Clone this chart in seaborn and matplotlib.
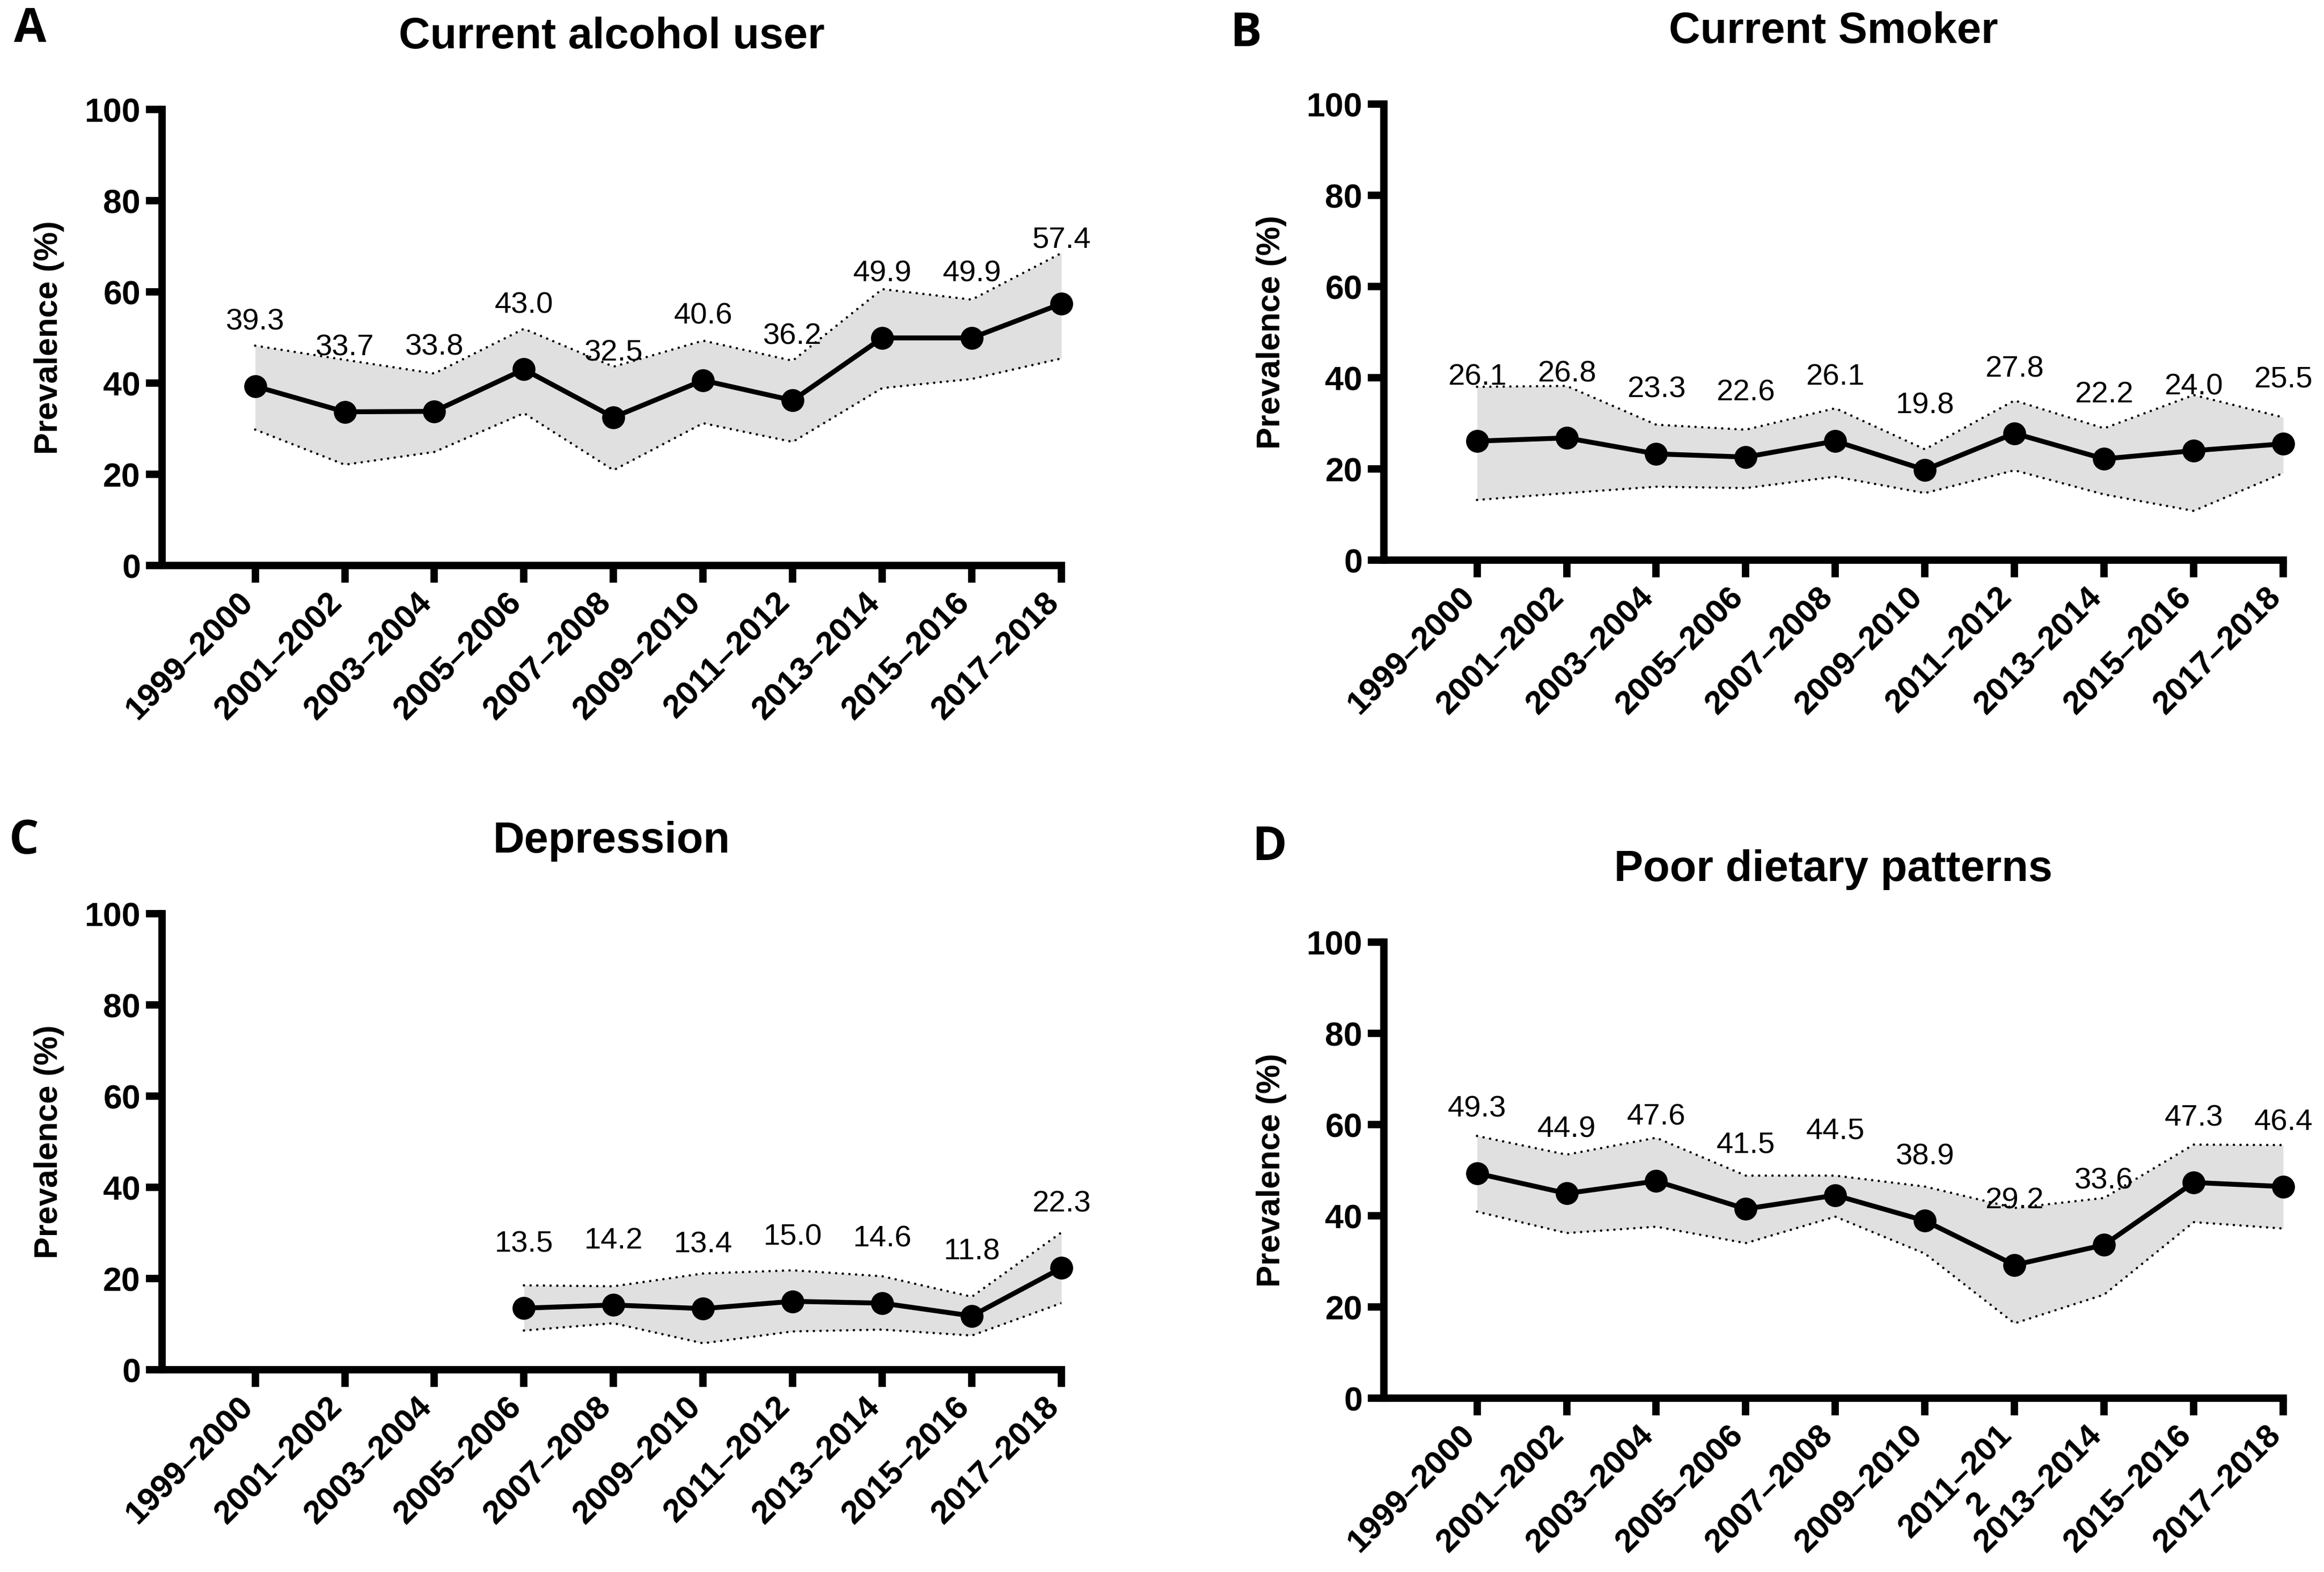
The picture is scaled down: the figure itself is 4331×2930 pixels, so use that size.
import numpy as np
import pandas as pd
import matplotlib
matplotlib.use("Agg")
import matplotlib.pyplot as plt
import matplotlib.transforms as mtransforms
import seaborn as sns

# survey cycles
cycles = ["1999–2000", "2001–2002", "2003–2004", "2005–2006", "2007–2008",
          "2009–2010", "2011–2012", "2013–2014", "2015–2016", "2017–2018"]
cycles_d = cycles[:6] + ["2011–201\n2"] + cycles[7:]

# A: current alcohol user
alcohol = [39.3, 33.7, 33.8, 43.0, 32.5, 40.6, 36.2, 49.9, 49.9, 57.4]
alcohol_lo = [29.8, 22.1, 24.9, 33.4, 20.9, 31.2, 27.1, 38.9, 40.9, 45.4]
alcohol_hi = [48.2, 45.1, 42.1, 51.9, 43.6, 49.3, 44.9, 60.6, 58.3, 68.5]

# B: current smoker
smoker = [26.1, 26.8, 23.3, 22.6, 26.1, 19.8, 27.8, 22.2, 24.0, 25.5]
smoker_lo = [13.2, 14.7, 16.1, 15.8, 18.3, 14.7, 19.7, 14.4, 10.8, 19.1]
smoker_hi = [38.0, 38.2, 29.7, 28.6, 33.3, 24.3, 35.0, 28.9, 36.2, 31.3]

# C: depression (no data before 2005-2006)
depress = [np.nan, np.nan, np.nan, 13.5, 14.2, 13.4, 15.0, 14.6, 11.8, 22.3]
depress_lo = [np.nan, np.nan, np.nan, 8.6, 10.2, 5.8, 8.4, 8.8, 7.5, 14.6]
depress_hi = [np.nan, np.nan, np.nan, 18.5, 18.3, 21.1, 21.8, 20.5, 16.0, 30.1]

# D: poor dietary patterns
diet = [49.3, 44.9, 47.6, 41.5, 44.5, 38.9, 29.2, 33.6, 47.3, 46.4]
diet_lo = [40.9, 36.2, 37.6, 34.0, 39.8, 31.7, 16.4, 22.7, 38.6, 37.2]
diet_hi = [57.5, 53.4, 57.1, 48.8, 48.8, 46.4, 41.7, 43.9, 55.6, 55.5]

sns.set_theme(style="ticks")
plt.rcParams["font.family"] = ["Liberation Sans", "DejaVu Sans"]
plt.rcParams["axes.edgecolor"] = "black"
plt.rcParams["xtick.color"] = "black"
plt.rcParams["ytick.color"] = "black"
plt.rcParams["text.color"] = "black"
plt.rcParams["axes.labelcolor"] = "black"
plt.rcParams["xtick.labelsize"] = 14.8
plt.rcParams["ytick.labelsize"] = 15

W, H = 4331, 2930
fig = plt.figure(figsize=(W/300, H/300), dpi=300)

panels = [
    ("A", "Current alcohol user", alcohol, alcohol_lo, alcohol_hi, cycles, (302, 1054), (56, 55)),
    ("B", "Current Smoker", smoker, smoker_lo, smoker_hi, cycles, (2579, 1044), (2321, 63)),
    ("C", "Depression", depress, depress_lo, depress_hi, cycles, (302, 2553), (45, 1568)),
    ("D", "Poor dietary patterns", diet, diet_lo, diet_hi, cycles_d, (2579, 2606), (2366, 1580)),
]

ax_w, ax_h = 1676, 850
x = np.arange(len(cycles))
shift = mtransforms.ScaledTranslation(-33/300, 0, fig.dpi_scale_trans)

for letter, title, vals, lo, hi, labels, (left, bottom), (lx, ly) in panels:
    ax = fig.add_axes([left/W, 1 - bottom/H, ax_w/W, ax_h/H])
    df = pd.DataFrame({"x": x, "y": vals, "lo": lo, "hi": hi})

    ax.fill_between(df["x"], df["lo"], df["hi"], color="#e0e0e0", lw=0, zorder=1)
    for col in ["lo", "hi"]:
        ax.plot(df["x"], df[col], color="black", lw=1.1, linestyle=(0, (0.01, 2.7)),
                dash_capstyle="round", zorder=2)
    sns.lineplot(data=df.dropna(), x="x", y="y", ax=ax, color="black", lw=2.2,
                 marker="o", markersize=9.5, markeredgecolor="black", zorder=3, clip_on=False)

    for xi, v in zip(x, vals):
        if not np.isnan(v):
            ax.text(xi, v + 14, f"{v:.1f}", ha="center", va="center", fontsize=13.5)

    ax.set_xlim(-1.04, 9)
    ax.set_ylim(0, 100)
    ax.tick_params(axis="y", labelsize=15, width=3.3, length=7.2, pad=2.4)
    ax.tick_params(axis="x", labelsize=14.8, width=3.3, length=7.7, pad=2)
    ax.set_yticks([0, 20, 40, 60, 80, 100])
    ax.set_xticks(x)
    ax.set_xticklabels(labels, rotation=45, ha="right", va="top", rotation_mode="anchor",
                       fontsize=14.8, fontweight="bold", multialignment="center", linespacing=1.05)
    for t in ax.get_xticklabels():
        t.set_transform(t.get_transform() + shift)
    for t in ax.get_yticklabels():
        t.set_fontweight("bold")
    ax.set_xlabel("")
    ax.set_ylabel("Prevalence (%)", fontsize=14.7, fontweight="bold")
    ax.yaxis.set_label_coords(-210/ax_w, 0.5)
    ax.yaxis.label.set_va("center")
    sns.despine(ax=ax)
    for s in ["left", "bottom"]:
        ax.spines[s].set_linewidth(3.3)
        ax.spines[s].set_capstyle("projecting")
    ax.set_facecolor("none")

    ax.text(0.5, 1 + 114/ax_h, title, transform=ax.transAxes, ha="center", va="baseline",
            fontsize=19.5, fontweight="bold")
    fig.text(lx/W, 1 - ly/H, letter, ha="center", va="center", fontsize=21,
             fontweight="bold", family=["Open Sans", "DejaVu Sans"])

fig.savefig("out.png", dpi=300, facecolor="white")
